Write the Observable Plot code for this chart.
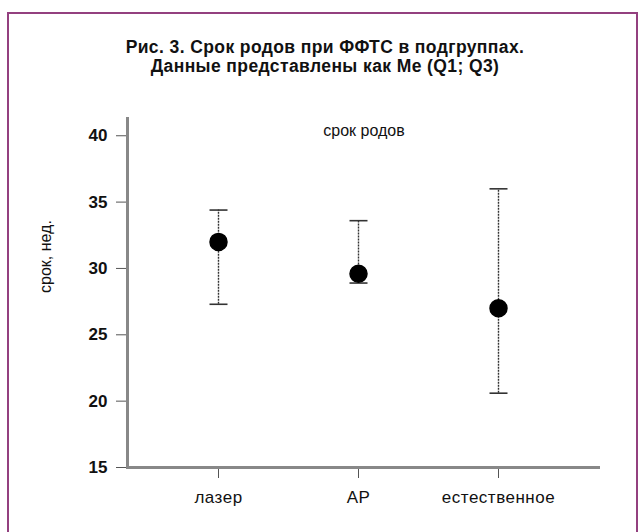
<!DOCTYPE html>
<html>
<head>
<meta charset="utf-8">
<script src="https://cdn.jsdelivr.net/npm/d3@7"></script>
<script src="https://cdn.jsdelivr.net/npm/@observablehq/plot@0.6"></script>
<style>
  html, body { margin: 0; padding: 0; background: #fff; }
  #wrap { position: relative; width: 639px; height: 532px; overflow: hidden; font-family: "Liberation Sans", Arial, sans-serif; }
  #border { position: absolute; left: 7px; top: 12px; width: 627px; height: 600px; border: 2px solid #93407f; }
  #title { position: absolute; left: 0; top: 38px; width: 650px; text-align: center; font-weight: bold; font-size: 17.5px; letter-spacing: 0.4px; line-height: 19px; color: #111; }
  #chart { position: absolute; left: 0; top: 0; }
  #chart g[aria-label="y-axis tick label"] text { font-weight: bold; }
  #chart g[aria-label="x-axis tick label"] text { letter-spacing: 0.5px; }
</style>
</head>
<body>
<div id="wrap">
  <div id="border"></div>
  <div id="chart"></div>
  <div id="title">Рис. 3. Срок родов при ФФТС в подгруппах.<br>Данные представлены как Me (Q1; Q3)</div>
</div>
<script>
const categories = ["лазер", "АР", "естественное"];
const medians = [32, 29.6, 27];
const q1 = [27.3, 28.9, 20.6];
const q3 = [34.4, 33.6, 36];
const yTicks = [15, 20, 25, 30, 35, 40];
const panelTitle = "срок родов";
const yLabel = "срок, нед.";

const data = categories.map((c, i) => ({cat: c, med: medians[i], lo: q1[i], hi: q3[i]}));
const caps = data.flatMap(d => [{cat: d.cat, v: d.lo}, {cat: d.cat, v: d.hi}]);

const capSymbol = {
  draw(ctx, size) {
    const w = 9;
    ctx.moveTo(-w, 0);
    ctx.lineTo(w, 0);
  }
};

const chart = Plot.plot({
  width: 639,
  height: 532,
  marginLeft: 127,
  marginRight: 39,
  marginTop: 118,
  marginBottom: 65,
  style: {fontFamily: "Liberation Sans, Arial, sans-serif", background: "transparent", color: "#111"},
  x: {type: "point", domain: categories, range: [218, 498], padding: 0, label: null},
  y: {domain: [15, 41.3], label: null},
  marks: [
    Plot.axisY({ticks: yTicks, tickSize: 11, tickPadding: 9, fontSize: 17, stroke: "#555", label: null}),
    Plot.axisX({tickSize: 11, tickPadding: 12, fontSize: 17, stroke: "#555", label: null}),
    Plot.ruleX(data, {x: "cat", y1: "lo", y2: "hi", stroke: "#333", strokeWidth: 1.4, strokeDasharray: "2,1"}),
    Plot.dot(caps, {x: "cat", y: "v", symbol: capSymbol, r: 5, fill: "none", stroke: "#333", strokeWidth: 1.6}),
    Plot.dot(data, {x: "cat", y: "med", r: 8.5, fill: "#000", stroke: "#000"}),
    Plot.ruleY([15], {stroke: "#888", strokeWidth: 3}),
    Plot.frame({anchor: "left", stroke: "#888", strokeWidth: 3}),
    Plot.text([panelTitle], {frameAnchor: "top", dy: 6, fontSize: 16, fill: "#111"}),
    Plot.text([yLabel], {frameAnchor: "left", dx: -82, rotate: -90, fontSize: 16, fill: "#111"})
  ]
});
document.getElementById("chart").appendChild(chart);
</script>
</body>
</html>
